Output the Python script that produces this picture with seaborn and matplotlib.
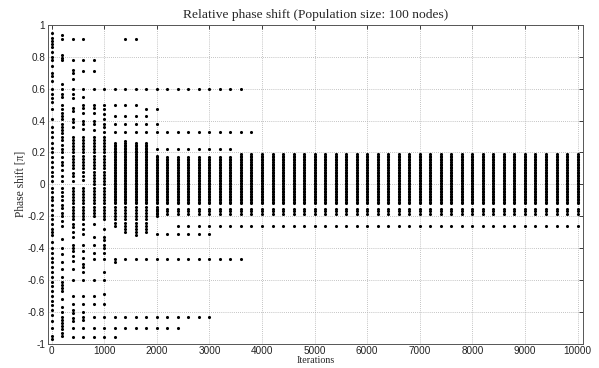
import numpy as np
import pandas as pd
import matplotlib
matplotlib.use("Agg")
import matplotlib.pyplot as plt
import seaborn as sns

# Phase shifts observed at the first sampled iterations (one entry per distinct level)
COL_0 = [0.95, 0.92, 0.9, 0.88, 0.86, 0.83, 0.8, 0.78, 0.74, 0.7, 0.68, 0.65, 0.6, 0.57,
         0.54, 0.52, 0.47, 0.41, 0.36, 0.33, 0.3, 0.26, 0.23, 0.2, 0.17, 0.14, 0.11, 0.08,
         0.05, 0.02, -0.02, -0.05, -0.08, -0.1, -0.13, -0.16, -0.19, -0.22, -0.25, -0.28,
         -0.3, -0.32, -0.36, -0.4, -0.43, -0.46, -0.49, -0.52, -0.55, -0.58, -0.61, -0.64,
         -0.67, -0.7, -0.73, -0.76, -0.79, -0.82, -0.86, -0.9, -0.95, -0.97]
COL_200 = [0.94, 0.91, 0.81, 0.79, 0.78, 0.63, 0.6, 0.57, 0.55, 0.5, 0.47, 0.45, 0.43, 0.41,
           0.38, 0.36, 0.34, 0.32, 0.3, 0.28, 0.25, 0.22, 0.2, 0.17, 0.14, 0.12, 0.09, 0.05,
           0.02, -0.02, -0.05, -0.07, -0.1, -0.13, -0.15, -0.18, -0.2, -0.23, -0.26, -0.34,
           -0.4, -0.44, -0.49, -0.53, -0.58, -0.61, -0.63, -0.65, -0.67, -0.72, -0.77, -0.8,
           -0.83, -0.85, -0.87, -0.89, -0.91, -0.93, -0.95]
COL_400 = [0.91, 0.78, 0.72, 0.7, 0.66, 0.6, 0.57, 0.54, 0.48, 0.46, 0.41, 0.39, 0.36, 0.3,
           0.28, 0.26, 0.24, 0.22, 0.2, 0.18, 0.16, 0.14, 0.12, 0.1, 0.07, 0.05, 0.02, -0.02,
           -0.04, -0.06, -0.08, -0.1, -0.12, -0.14, -0.16, -0.18, -0.2, -0.22, -0.25, -0.27,
           -0.3, -0.33, -0.38, -0.4, -0.42, -0.45, -0.48, -0.53, -0.6, -0.7, -0.75, -0.79,
           -0.81, -0.84, -0.86, -0.9, -0.96]
COL_600 = [0.91, 0.78, 0.71, 0.6, 0.55, 0.5, 0.48, 0.45, 0.4, 0.38, 0.35, 0.3, 0.28, 0.26,
           0.24, 0.22, 0.2, 0.18, 0.16, 0.14, 0.12, 0.1, 0.08, 0.05, 0.03, -0.02, -0.04,
           -0.06, -0.08, -0.1, -0.12, -0.14, -0.16, -0.18, -0.2, -0.22, -0.25, -0.28, -0.31,
           -0.38, -0.42, -0.46, -0.5, -0.52, -0.55, -0.6, -0.7, -0.75, -0.8, -0.83, -0.85,
           -0.9, -0.96]
COL_800 = [0.78, 0.71, 0.6, 0.5, 0.48, 0.45, 0.4, 0.38, 0.34, 0.3, 0.28, 0.26, 0.24, 0.22,
           0.2, 0.18, 0.16, 0.14, 0.12, 0.1, 0.08, 0.06, 0.04, 0.02, 0.0, -0.02, -0.04,
           -0.06, -0.08, -0.1, -0.12, -0.14, -0.16, -0.18, -0.2, -0.25, -0.33, -0.38, -0.43,
           -0.47, -0.6, -0.7, -0.75, -0.83, -0.9, -0.96]
COL_1000 = [0.6, 0.5, 0.47, 0.44, 0.41, 0.38, 0.36, 0.33, 0.3, 0.28, 0.26, 0.24, 0.22, 0.2,
            0.18, 0.16, 0.14, 0.12, 0.1, 0.08, 0.06, 0.04, 0.02, 0.0, -0.02, -0.04, -0.06,
            -0.08, -0.1, -0.12, -0.14, -0.16, -0.18, -0.2, -0.22, -0.28, -0.33, -0.35, -0.38,
            -0.4, -0.43, -0.47, -0.55, -0.6, -0.69, -0.75, -0.83, -0.9, -0.96]
EARLY_ITERATIONS = [0, 200, 400, 600, 800, 1000]
EARLY_COLUMNS = [COL_0, COL_200, COL_400, COL_600, COL_800, COL_1000]

# Later iterations: a dense band of phases plus isolated clusters
LATE_ITERATIONS = list(range(1200, 10001, 200))
BAND_LEVELS = [0.27, 0.26, 0.25, 0.24, 0.23, 0.22, 0.21, 0.2, 0.19, 0.18, 0.17, 0.16, 0.15,
               0.14, 0.13, 0.12, 0.11, 0.1, 0.09, 0.08, 0.07, 0.06, 0.05, 0.04, 0.03, 0.02,
               0.01, 0.0, -0.01, -0.02, -0.03, -0.04, -0.05, -0.06, -0.07, -0.08, -0.09,
               -0.1, -0.11, -0.12, -0.14, -0.16, -0.18, -0.2, -0.22, -0.24, -0.26, -0.28,
               -0.3, -0.32]
BAND_TOP = [0.26, 0.27, 0.26, 0.26, 0.18] + [0.17] * 7 + [0.19] * 33
BAND_BOTTOM = [-0.26, -0.3, -0.32, -0.3, -0.2] + [-0.12] * 40

CLUSTER_VALUES = [0.91, 0.6, 0.5, 0.47, 0.43, 0.38, 0.33, 0.22,
                  -0.155, -0.17, -0.185, -0.26, -0.31, -0.47, -0.49, -0.83, -0.9, -0.96]
CLUSTER_FIRST = [1400, 1200, 1200, 1800, 1200, 1200, 1200, 2000,
                 2000, 2000, 2000, 2400, 2000, 1200, 1200, 1200, 1200, 1200]
CLUSTER_LAST = [1600, 3600, 1600, 2000, 1800, 2000, 3800, 3400,
                10000, 10000, 10000, 10000, 3000, 3600, 1200, 3000, 2400, 1200]

rows = []
for it, col in zip(EARLY_ITERATIONS, EARLY_COLUMNS):
    rows += [(it, v) for v in col]
for it, top, bot in zip(LATE_ITERATIONS, BAND_TOP, BAND_BOTTOM):
    rows += [(it, v) for v in BAND_LEVELS if bot - 1e-9 <= v <= top + 1e-9]
    for v, first, last in zip(CLUSTER_VALUES, CLUSTER_FIRST, CLUSTER_LAST):
        if first <= it <= last:
            rows.append((it, v))
df = pd.DataFrame(rows, columns=["Iterations", "Phase"])

sns.set_theme(style="white")
plt.rcParams["font.family"] = ["Liberation Sans", "DejaVu Sans"]

fig = plt.figure(figsize=(5.99, 3.68), dpi=100)
ax = fig.add_axes([0.080, 0.066, 0.893, 0.866])

sns.scatterplot(data=df, x="Iterations", y="Phase", color="black", s=5,
                linewidth=0, marker="o", ax=ax, legend=False)

ax.set_xlim(-70, 10100)
ax.set_ylim(-1, 1)
ax.set_xticks(np.arange(0, 10001, 1000))
ax.set_yticks(np.round(np.arange(-1, 1.01, 0.2), 1))
ax.set_yticklabels(["-1", "-0.8", "-0.6", "-0.4", "-0.2", "0", "0.2", "0.4", "0.6", "0.8", "1"])
ax.grid(True, linestyle=(0, (1, 1.5)), color="#b0b0b0", linewidth=0.6)
ax.tick_params(direction="in", length=3, width=0.6, labelsize=7.2, pad=2,
               top=True, right=True, colors="#222222")
for sp in ax.spines.values():
    sp.set_color("#555555")
    sp.set_linewidth(0.7)

serif = ["Liberation Serif", "DejaVu Serif"]
ax.set_title("Relative phase shift (Population size: 100 nodes)", family=serif,
             fontsize=9.7, pad=5)
ax.set_xlabel("Iterations", family=serif, fontsize=7.2, labelpad=0)
ax.set_ylabel("Phase shift [\u03c0]", family=serif, fontsize=8.3, labelpad=1)

fig.savefig("out.png", dpi=100, facecolor="white")
